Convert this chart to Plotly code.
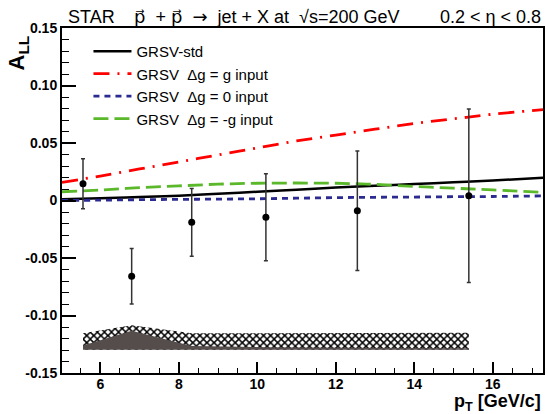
import plotly.graph_objects as go

# ---- data ----
pt = [5.56, 6.80, 8.33, 10.22, 12.55, 15.39]
all_vals = [0.0146, -0.0659, -0.019, -0.0146, -0.0089, 0.0042]
all_err = [0.0218, 0.0242, 0.0294, 0.0378, 0.052, 0.0754]

sys_hatch_top = [-0.1155, -0.1085, -0.1155, -0.1152, -0.115, -0.115]
sys_dark_top = [-0.126, -0.1132, -0.1265, -0.1275, -0.128, -0.1285]
sys_bottom = [-0.1298, -0.1298, -0.1298, -0.1298, -0.1298, -0.1298]

theory_pt = [5.025, 6, 7, 8, 9, 10, 11, 12, 13, 14, 15, 16, 17.28]
grsv_std = [0.001, 0.002, 0.003, 0.0042, 0.0058, 0.0076, 0.0094, 0.0112, 0.0128, 0.0143, 0.0158, 0.0173, 0.0198]
grsv_max = [0.0157, 0.0213, 0.0274, 0.0335, 0.0396, 0.0457, 0.0518, 0.0569, 0.062, 0.067, 0.071, 0.075, 0.079]
grsv_zero = [0.0, 0.0003, 0.0007, 0.001, 0.0012, 0.0015, 0.002, 0.0025, 0.0028, 0.003, 0.0033, 0.0035, 0.004]
grsv_min = [0.0076, 0.0091, 0.0112, 0.0127, 0.0142, 0.015, 0.0152, 0.015, 0.014, 0.0122, 0.0107, 0.0092, 0.0071]

x_range = [5.025, 17.28]
y_range = [-0.15, 0.15]
y_tickvals = [0.15, 0.10, 0.05, 0, -0.05, -0.10, -0.15]
y_ticktext = ["0.15", "0.10", "0.05", "0", "-0.05", "-0.10", "-0.15"]
x_tickvals = [6, 8, 10, 12, 14, 16]
x_ticktext = ["6", "8", "10", "12", "14", "16"]

FONT = "Liberation Sans, Arial, sans-serif"
L, R, T, B = 62, 3, 28, 41
PW = 548 - L - R

fig = go.Figure()

# systematic band (hatched)
fig.add_trace(go.Scatter(
    x=pt + pt[::-1], y=sys_hatch_top + sys_bottom[::-1],
    fill="toself", mode="lines", line=dict(width=0),
    fillcolor="white",
    fillpattern=dict(shape="x", size=5, solidity=0.5, fgcolor="black", bgcolor="white", fillmode="replace"),
    showlegend=False, hoverinfo="skip"))
# systematic band (dark)
fig.add_trace(go.Scatter(
    x=pt + pt[::-1], y=sys_dark_top + sys_bottom[::-1],
    fill="toself", mode="lines", line=dict(width=0),
    fillcolor="#554c4c", showlegend=False, hoverinfo="skip"))

fig.add_trace(go.Scatter(x=theory_pt, y=grsv_std, mode="lines", name="GRSV-std",
                         line=dict(color="black", width=2.5), line_shape="spline", legendgroup="a"))
fig.add_trace(go.Scatter(x=theory_pt, y=grsv_max, mode="lines", name="GRSV  Δg = g input",
                         line=dict(color="#ff0000", width=2.8, dash="16px,8px,2px,8px"), line_shape="spline", legendgroup="b"))
fig.add_trace(go.Scatter(x=theory_pt, y=grsv_zero, mode="lines", name="GRSV  Δg = 0 input",
                         line=dict(color="#2a2a90", width=2.8, dash="6px,5px"), line_shape="spline", legendgroup="c"))
fig.add_trace(go.Scatter(x=theory_pt, y=grsv_min, mode="lines", name="GRSV  Δg = -g input",
                         line=dict(color="#5ab82a", width=2.8, dash="15px,6px"), line_shape="spline", legendgroup="d"))

fig.add_trace(go.Scatter(
    x=pt, y=all_vals, mode="markers",
    marker=dict(color="black", size=7),
    error_y=dict(type="data", array=all_err, color="#333333", thickness=1.5, width=2),
    showlegend=False))

axis_common = dict(showline=True, linecolor="black", linewidth=2, mirror=True,
                   ticks="inside", tickcolor="black", showgrid=False, zeroline=False,
                   tickfont=dict(family=FONT, size=14, color="black"))

fig.update_layout(
    width=548, height=414,
    margin=dict(l=L, r=R, t=T, b=B),
    paper_bgcolor="white", plot_bgcolor="white",
    font=dict(family=FONT, color="black"),
    xaxis=dict(range=x_range, tickvals=x_tickvals, ticktext=["<b>%s</b>" % t for t in x_ticktext],
               ticklen=11, tickwidth=1.5, ticklabelstandoff=-3,
               minor=dict(dtick=0.5, ticklen=5, ticks="inside", tickcolor="black", tickwidth=1.2),
               **axis_common),
    yaxis=dict(range=y_range, tickvals=y_tickvals, ticktext=["<b>%s</b>" % t for t in y_ticktext],
               ticklen=14, tickwidth=1.5,
               minor=dict(dtick=0.01, tick0=0, ticklen=7, ticks="inside", tickcolor="black", tickwidth=1.2),
               **axis_common),
    legend=dict(x=0.055, y=0.98, xanchor="left", yanchor="top", bgcolor="rgba(0,0,0,0)",
                font=dict(family=FONT, size=15, color="black"),
                itemwidth=38, tracegroupgap=8, traceorder="normal"),
    showlegend=True,
)

TFONT = dict(family=FONT, size=18, color="black")
PV = "<span style='font-family:DejaVu Sans'>p\u20d7</span>"
ARROW = "<span style='font-family:DejaVu Sans'>\u2192</span>"
# title pieces (positions in paper coords; plot spans px 62..545)
fig.add_annotation(text="STAR", xref="paper", yref="paper", x=(66 - L) / PW, y=1.0,
                   xanchor="left", yanchor="bottom", yshift=-1, showarrow=False, font=TFONT)
fig.add_annotation(text=PV + "  + " + PV + "  " + ARROW + "  jet + X at  \u221as=200 GeV",
                   xref="paper", yref="paper", x=(132 - L) / PW, y=1.0,
                   xanchor="left", yanchor="bottom", yshift=-1, showarrow=False, font=TFONT)
fig.add_annotation(text="0.2 < \u03b7 < 0.8", xref="paper", yref="paper", x=1.0, y=1.0,
                   xanchor="right", yanchor="bottom", yshift=-1, showarrow=False, font=TFONT)
fig.add_annotation(text="<b>A<sub>LL</sub></b>", xref="paper", yref="paper", x=-0.092, y=0.985,
                   xanchor="center", yanchor="top", textangle=-90, showarrow=False,
                   font=dict(family=FONT, size=22, color="black"))
fig.add_annotation(text="<b>p<sub>T</sub> [GeV/c]</b>", xref="paper", yref="paper", x=1.0, y=0,
                   xanchor="right", yanchor="top", yshift=-16, showarrow=False,
                   font=dict(family=FONT, size=18, color="black"))

fig.write_html("out.html", config={"displayModeBar": False},
               post_script="document.body.style.margin='0';document.body.style.overflow='hidden';")
